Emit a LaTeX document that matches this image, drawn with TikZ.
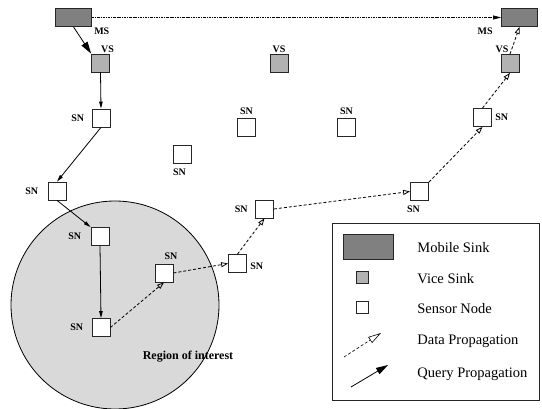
\documentclass[tikz,border=0pt]{standalone}
\usepackage{fontspec}
\setmainfont{Liberation Serif}
\usepackage{xcolor}
\colorlet{colorMobile}{black!50}
\colorlet{colorVice}{black!30}
\colorlet{colorRegion}{black!15}
\colorlet{colorEdge}{black!85}
\usetikzlibrary{arrows.meta, positioning}
\tikzset{
  sensor/.style={draw=colorEdge, fill=white, minimum size=18pt, inner sep=0pt},
  vice/.style={sensor, fill=colorVice},
  mobile/.style={draw=colorEdge, fill=colorMobile, minimum width=36pt, minimum height=18pt, inner sep=0pt},
  tag/.style={font=\bfseries\fontsize{10}{10}\selectfont, inner sep=1pt},
  legendtext/.style={font=\fontsize{14.5}{16}\selectfont, inner sep=0pt, anchor=base west}
}

\begin{document}
\begin{tikzpicture}[x=1pt, y=-1pt, line width=0.8pt, >={Triangle[length=7pt,width=3.5pt]},
  query/.style={->},
  bigquery/.style={-{Triangle[length=12pt,width=7pt]}},
  data/.style={dash pattern=on 3pt off 2pt, -{Triangle[open,length=7pt,width=5pt]}},
  bigdata/.style={dash pattern=on 3pt off 2pt, line width=0.6pt, -{Triangle[open,length=13pt,width=7pt]}},
  move/.style={dash pattern=on 2.5pt off 1pt on 0.8pt off 1pt, line width=0.6pt, -{Triangle[length=8pt,width=4pt]}}]
\useasboundingbox (0,0) rectangle (542,409);
% region of interest
\node[circle, draw, fill=colorRegion, minimum size=208pt, inner sep=0pt] (roi) at (115,305) {};
\node[font=\bfseries\fontsize{12}{12}\selectfont, inner sep=0pt] (roiText) at (188,357) {Region of interest};
% sinks
\node[mobile, label={[tag, anchor=north west, xshift=1pt]south east:MS}] (ms1) at (73.5,17.5) {};
\node[mobile, label={[tag, anchor=north east, xshift=-7pt]south west:MS}] (ms2) at (519.5,17.5) {};
\node[vice, label={[tag, xshift=7pt]above:VS}] (vs1) at (100.5,63) {};
\node[vice, label={[tag]above:VS}] (vs2) at (279,63.5) {};
\node[vice, label={[tag, xshift=-8pt]above:VS}] (vs3) at (510,63.5) {};
% sensor nodes
\node[sensor, label={[tag, label distance=6pt]left:SN}] (sn1) at (101,118) {};
\node[sensor, label={[tag, label distance=8pt]left:SN}] (sn2) at (57,191) {};
\node[sensor, label={[tag, label distance=8pt]left:SN}] (sn3) at (100,236.5) {};
\node[sensor, label={[tag, label distance=7pt]left:SN}] (sn4) at (101,327.5) {};
\node[sensor, label={[tag, label distance=3pt, xshift=7pt]above:SN}] (sn5) at (164,273) {};
\node[sensor, label={[tag, label distance=2pt, yshift=-3pt]right:SN}] (sn6) at (237.5,263.5) {};
\node[sensor, label={[tag, label distance=6pt]left:SN}] (sn7) at (264.5,209) {};
\node[sensor, label={[tag, label distance=4pt, xshift=-6pt]below:SN}] (sn8) at (419.5,191.5) {};
\node[sensor, label={[tag, label distance=2pt]right:SN}] (sn9) at (482.5,117.5) {};
\node[sensor, label={[tag, label distance=4pt, xshift=-3pt]below:SN}] (sn10) at (182.5,154.5) {};
\node[sensor, label={[tag, label distance=2pt]above:SN}] (sn11) at (246.5,127.5) {};
\node[sensor, label={[tag, label distance=2pt]above:SN}] (sn12) at (346.5,127.5) {};
% query path
\draw[bigquery] (ms1.south) -- (vs1.north west);
\draw[query] (vs1.south) -- (sn1.north);
\draw[query] (sn1.south) -- (sn2.north);
\draw[query] (sn2.south) -- (sn3.north west);
\draw[query] (sn3.south) -- (sn4.north);
% data path
\draw[data] (sn4.east) -- (sn5.south);
\draw[data] (sn5.east) -- (sn6.west);
\draw[data] (sn6.north) -- (sn7.south);
\draw[data] (sn7.east) -- (sn8.west);
\draw[data] (sn8.north east) -- (sn9.south);
\draw[data] (sn9.north) -- (vs3.south);
\draw[data] (vs3.north) -- (ms2.south);
% sink movement
\draw[move] (ms1.east) -- (ms2.west);
% legend
\node[draw=colorEdge, minimum width=207pt, minimum height=177pt, inner sep=0pt] (legend) at (435.5,311.5) {};
\node[mobile, minimum width=50pt, minimum height=25pt] (keyMobile) at (368,246.5) {};
\node[vice, minimum size=12pt] (keyVice) at (362.5,277.5) {};
\node[sensor, minimum size=12pt] (keySensor) at (362.5,307) {};
\coordinate (keyDataA) at (344,357);
\coordinate (keyDataB) at (381,333);
\coordinate (keyQueryA) at (351,387);
\coordinate (keyQueryB) at (388,365);
\draw[bigdata] (keyDataA) -- (keyDataB);
\draw[bigquery] (keyQueryA) -- (keyQueryB);
\node[legendtext] (txtMobile) at (417,252.5) {Mobile Sink};
\node[legendtext] (txtVice) at (417,284) {Vice Sink};
\node[legendtext] (txtSensor) at (417,313.5) {Sensor Node};
\node[legendtext] (txtData) at (417,344.5) {Data Propagation};
\node[legendtext] (txtQuery) at (417,377.5) {Query Propagation};
\end{tikzpicture}
\end{document}
